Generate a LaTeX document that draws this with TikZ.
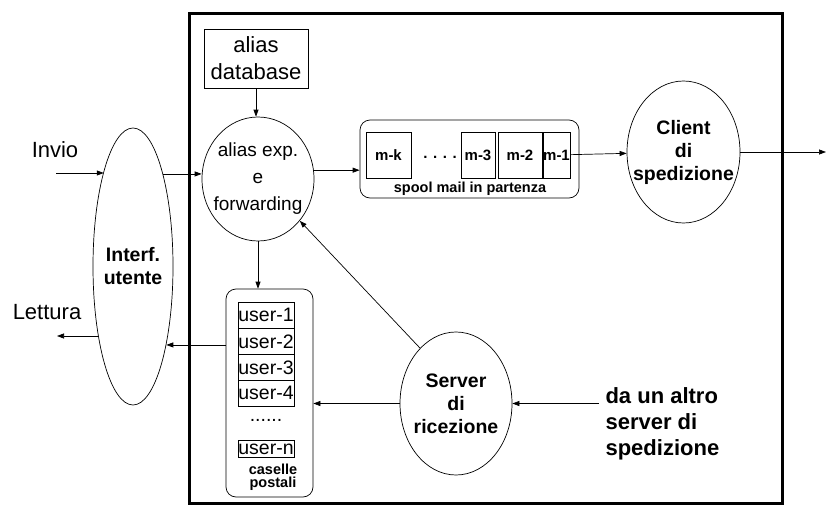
\documentclass[tikz,border=0pt]{standalone}
\usepackage{fontspec}
\setmainfont{Liberation Sans}
\usetikzlibrary{shapes.geometric,arrows.meta}
\newcommand{\fs}[2]{\fontsize{#1}{#2}\selectfont}

\begin{document}
\begin{tikzpicture}[x=1pt,y=-1pt,
  ell/.style={draw,ellipse,line width=0.7pt,inner xsep=-30pt,inner ysep=0pt,align=center},
  bell/.style={ell,font=\fs{19.5}{23}\bfseries},
  box/.style={draw,rectangle,line width=0.7pt,inner sep=0pt,align=center},
  mbox/.style={box,minimum height=46pt,font=\fs{15}{18}\bfseries},
  ubox/.style={box,minimum width=56pt,font=\fs{19.5}{22}},
  rbox/.style={draw,rounded corners=10pt,line width=0.7pt},
  arr/.style={-{Triangle[length=7pt,width=5pt]},line width=0.7pt}]
\useasboundingbox (0,0) rectangle (827,511);
\draw[line width=3pt] (189,14) rectangle (782,503);
\node[box,minimum width=104pt,minimum height=59pt,font=\fs{22}{27}] (db) at (256,58.5) {alias\\database};
\node[ell,minimum width=112pt,minimum height=124pt,font=\fs{19}{27}] (alias) at (258,179) {alias exp.\\e\\forwarding};
\node[rbox,minimum width=219pt,minimum height=78pt] (spool) at (469.5,159) {};
\node[mbox,minimum width=45pt] (mk) at (388.5,155) {m-k};
\node[font=\fs{15}{18}\bfseries] (mdots) at (440,157) {. . . .};
\node[mbox,minimum width=34pt] (mthree) at (478,155) {m-3};
\node[mbox,minimum width=44pt] (mtwo) at (520,155) {m-2};
\node[mbox,minimum width=27pt] (mone) at (556.5,155) {m-1};
\node[font=\fs{14.5}{16}\bfseries] (spoollab) at (470,189) {spool mail in partenza};
\node[bell,minimum width=113pt,minimum height=142pt] (client) at (683.5,152) {Client\\di\\spedizione};
\node[bell,minimum width=80pt,minimum height=277pt] (interf) at (133,266.5) {Interf.\\utente};
\node[font=\fs{22}{26}] (invio) at (55,150) {Invio};
\node[font=\fs{22}{26}] (lettura) at (47,312) {Lettura};
\node[rbox,minimum width=87pt,minimum height=208pt] (caselle) at (269.5,393) {};
\foreach \i in {1,...,4}
  \node[ubox,minimum height=26pt] (u\i) at (266,{289.3+26*\i}) {user-\i};
\node[font=\fs{19.5}{22}] (udots) at (266,420) {......};
\node[ubox,minimum height=17pt] (un) at (266,449) {user-n};
\node[font=\fs{14.5}{13}\bfseries,align=center] (casellelab) at (273,477.5) {caselle\\postali};
\node[bell,minimum width=112pt,minimum height=143pt] (server) at (456,403.5) {Server\\di\\ricezione};
\node[font=\fs{22}{26}\bfseries,align=left,anchor=west] (altro) at (602,424) {da un altro\\server di\\spedizione};
\coordinate (invin) at (56,173);
\coordinate (lettout) at (57,336);
\coordinate (out) at (826,152);
\coordinate (altroin) at (599,403.5);
\draw[arr] (invin) -- (invin -| interf.107.5);
\draw[arr] (interf.72.5) -- (interf.72.5 -| alias.west);
\draw[arr] (lettout -| interf.243.5) -- (lettout);
\draw[arr] (caselle.west |- interf.293.9) -- (interf.293.9);
\draw[arr] (db.south) -- (db.south |- alias.north);
\draw[arr] (alias.9.2) -- (alias.9.2 -| spool.west);
\draw[arr] (alias.south) -- (alias.south |- caselle.north);
\draw[arr] (mone) -- (client);
\draw[arr] (client.east) -- (out);
\draw[arr] (server.123) -- (alias.315);
\draw[arr] (server.west) -- (server.west -| caselle.east);
\draw[arr] (altroin) -- (server.east);
\end{tikzpicture}
\end{document}
